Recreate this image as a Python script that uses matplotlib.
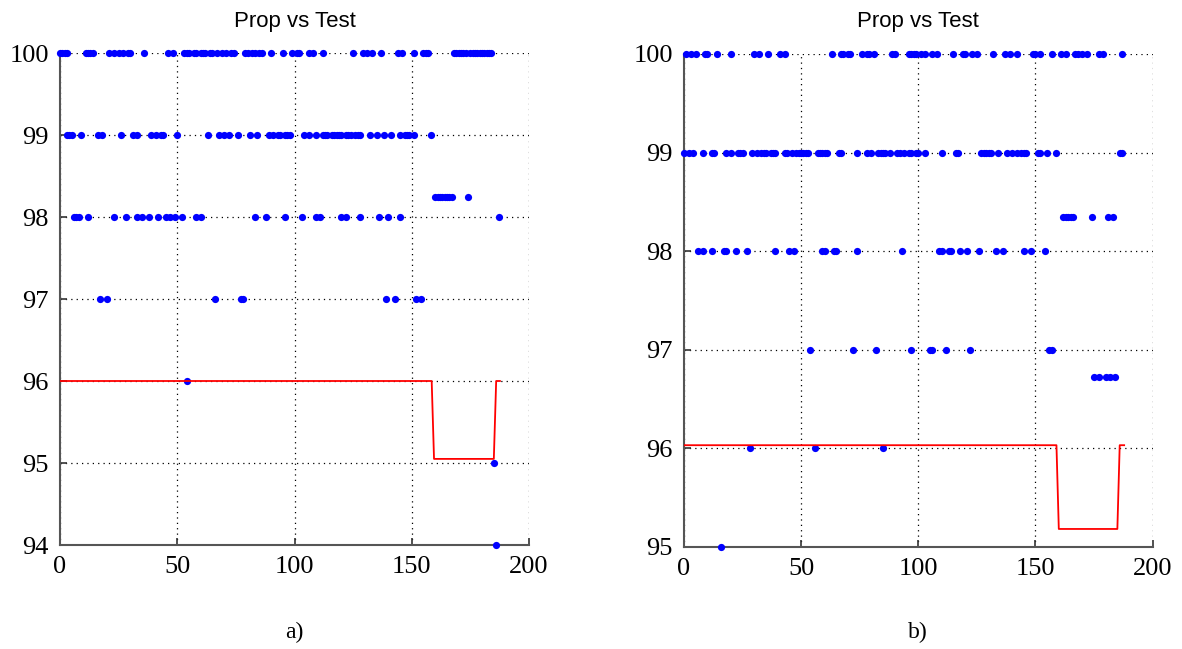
import matplotlib
matplotlib.use("Agg")
import matplotlib.pyplot as plt

# ---------------- data: panel a) ----------------
a_x100 = [0, 1, 2, 3, 11, 12, 13, 14, 21, 23, 25, 27, 29, 30, 36, 46, 48,
          53, 54, 55, 57, 58, 60, 61, 62, 64, 65, 67, 69, 71, 73, 74,
          79, 80, 82, 83, 85, 86, 90, 95, 99, 101, 102, 106, 108, 112, 125,
          129, 131, 133, 137, 144, 146, 151, 155, 156, 157,
          168, 169, 170, 171, 172, 173, 175, 176, 177, 178, 179, 180, 181, 182, 183, 184]
a_x99 = [3, 4, 5, 9, 16, 18, 26, 31, 33, 39, 41, 43, 44, 50, 63, 68, 70, 72, 76, 81, 84,
         89, 91, 93, 94, 96, 97, 98, 104, 106, 109, 112, 113, 114, 116, 117, 118, 119, 120,
         122, 123, 124, 126, 127, 128, 132, 135, 138, 141, 145, 147, 148, 149, 151, 158]
a_x98 = [6, 7, 8, 12, 23, 28, 33, 35, 38, 42, 45, 47, 49, 52, 58, 60, 83, 88, 96, 103,
         109, 111, 120, 122, 128, 136, 140, 145, 187]
a_x9825 = [160, 161, 162, 163, 164, 165, 166, 167, 174]
a_x97 = [17, 20, 66, 77, 78, 139, 143, 152, 154]
a_x96 = [54]
a_x95 = [185]
a_x94 = [186]
a_levels = [100, 99, 98, 98.25, 97, 96, 95, 94]
a_groups = [a_x100, a_x99, a_x98, a_x9825, a_x97, a_x96, a_x95, a_x94]
a_thr_x = [0, 158.5, 159.5, 185, 186, 187.6]
a_thr_y = [96, 96, 95.05, 95.05, 96, 96]

# ---------------- data: panel b) ----------------
b_x100 = [1, 3, 5, 9, 10, 14, 20, 30, 32, 36, 41, 43, 63, 67, 68, 70, 71, 76, 78, 79, 81,
          89, 90, 96, 97, 98, 99, 101, 103, 106, 108, 115, 119, 120, 123, 125, 132,
          137, 139, 142, 149, 150, 152, 157, 161, 163, 167, 168, 170, 172, 177, 179, 187]
b_x99 = [0, 2, 4, 8, 12, 13, 18, 20, 23, 24, 25, 29, 31, 33, 34, 35, 37, 38, 39, 43, 44, 46,
         48, 49, 50, 51, 52, 53, 57, 58, 59, 60, 61, 66, 67, 74, 78, 80, 83, 84, 85, 86, 88,
         91, 92, 94, 96, 97, 99, 100, 103, 110, 116, 117, 127, 128, 129, 130, 131, 134,
         138, 140, 142, 144, 145, 146, 151, 152, 155, 159, 186, 187]
b_x98 = [6, 8, 12, 17, 18, 22, 27, 39, 45, 47, 59, 60, 64, 65, 74, 93, 109, 110, 113, 114,
         118, 121, 126, 133, 136, 145, 148, 154]
b_x9835 = [162, 163, 164, 165, 166, 174, 181, 183]
b_x97 = [54, 72, 82, 97, 105, 106, 112, 122, 156, 157]
b_x9672 = [175, 177, 180, 182, 184]
b_x96 = [28, 56, 85]
b_x95 = [16]
b_levels = [100, 99, 98.35, 98, 97, 96.72, 96, 95]
b_groups = [b_x100, b_x99, b_x9835, b_x98, b_x97, b_x9672, b_x96, b_x95]
b_thr_x = [0, 159, 160, 185, 186, 187.9]
b_thr_y = [96.03, 96.03, 95.18, 95.18, 96.03, 96.03]

title = "Prop vs Test"
xticks = [0, 50, 100, 150, 200]
a_yticks = [94, 95, 96, 97, 98, 99, 100]
b_yticks = [95, 96, 97, 98, 99, 100]
captions = ["a)", "b)"]

W, H = 1182, 649
fig = plt.figure(figsize=(W / 100, H / 100), dpi=100)

panels = [
    (a_groups, a_levels, a_thr_x, a_thr_y, a_yticks, (60, 529, 53, 545)),
    (b_groups, b_levels, b_thr_x, b_thr_y, b_yticks, (684, 1152.5, 54, 546.7)),
]

for i, (groups, levels, tx, ty, yt, (x0, x1, y0, y1)) in enumerate(panels):
    ax = fig.add_axes([x0 / W, 1 - y1 / H, (x1 - x0) / W, (y1 - y0) / H])
    ax.set_xlim(0, 200)
    ax.set_ylim(yt[0], yt[-1])
    ax.grid(True, color="black", linestyle=(0, (1, 3.3)), linewidth=0.9)
    ax.set_axisbelow(True)
    for xs, lev in zip(groups, levels):
        ax.plot(xs, [lev] * len(xs), linestyle="none", marker="o", markersize=5.2,
                color=(0, 0, 1), markeredgewidth=0, clip_on=False, zorder=3)
    ax.plot(tx, ty, color=(1, 0, 0), linewidth=1.3, zorder=4)
    ax.set_xticks(xticks)
    ax.set_yticks(yt)
    for s in ["top", "right"]:
        ax.spines[s].set_visible(False)
    for s in ["left", "bottom"]:
        ax.spines[s].set_color("#555555")
        ax.spines[s].set_linewidth(1.5)
    ax.tick_params(direction="in", length=5, width=1.2, color="#333333",
                   labelsize=19, pad=8)
    for lab in ax.get_xticklabels() + ax.get_yticklabels():
        lab.set_fontfamily("Liberation Serif")
    cx = (x0 + x1) / 2
    fig.text(cx / W, 1 - 21 / H, title, ha="center", va="center",
             fontsize=16, fontfamily="Liberation Sans")
    fig.text(cx / W, 1 - 632 / H, captions[i], ha="center", va="center",
             fontsize=17, fontfamily="Liberation Serif")

fig.savefig("out.png", dpi=100)
